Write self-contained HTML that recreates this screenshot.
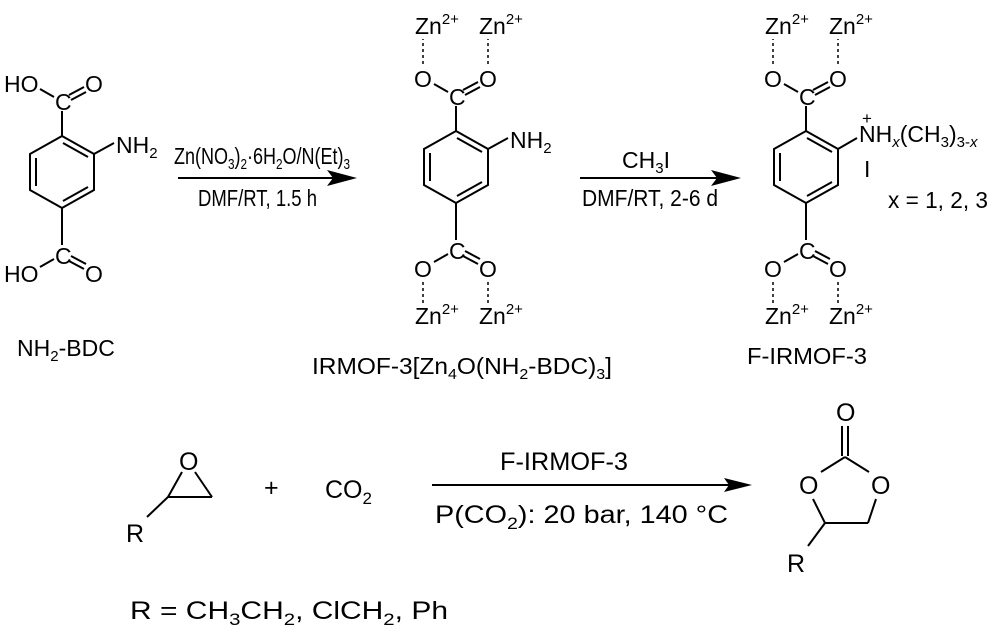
<!DOCTYPE html>
<html><head><meta charset="utf-8"><style>
html,body{margin:0;padding:0;background:#fff;}
svg{display:block;font-family:"Liberation Sans",Arial,sans-serif;}
text{font-size:23px;fill:#000;}
.s{font-size:15px;}
.b{font-size:25px;}
</style></head><body>
<svg width="1000" height="643" viewBox="0 0 1000 643" xmlns="http://www.w3.org/2000/svg">
<defs>
<g id="ring" stroke="#000" stroke-width="2" fill="none">
  <polygon points="806,131 838,149 838,185 806,203 774,185 774,149"/>
  <line x1="780" y1="153" x2="780" y2="181"/>
  <line x1="807" y1="138" x2="832" y2="152"/>
  <line x1="832" y1="182" x2="807" y2="196"/>
  <line x1="806" y1="131" x2="806" y2="106"/>
  <line x1="806" y1="203" x2="806" y2="240"/>
  <line x1="798" y1="92" x2="784" y2="84"/>
  <line x1="813" y1="90" x2="828" y2="82"/>
  <line x1="815" y1="95" x2="830" y2="87"/>
  <line x1="798" y1="254" x2="784" y2="262"/>
  <line x1="813" y1="256" x2="828" y2="264"/>
  <line x1="815" y1="251" x2="830" y2="259"/>
</g>
<g id="zn" stroke="#000" stroke-width="1.5" stroke-dasharray="3,3" fill="none">
  <line x1="773" y1="64" x2="773" y2="39"/>
  <line x1="838" y1="64" x2="838" y2="39"/>
  <line x1="773" y1="282" x2="773" y2="304"/>
  <line x1="838" y1="282" x2="838" y2="304"/>
</g>
<g id="labels">
  <text x="799" y="105">C</text>
  <text x="799" y="259">C</text>
  <text x="764" y="87">O</text>
  <text x="829" y="87">O</text>
  <text x="764" y="277">O</text>
  <text x="829" y="277">O</text>
  <text x="765" y="34">Zn<tspan class="s" dy="-10">2+</tspan></text>
  <text x="829" y="34">Zn<tspan class="s" dy="-10">2+</tspan></text>
  <text x="765" y="324">Zn<tspan class="s" dy="-10">2+</tspan></text>
  <text x="829" y="324">Zn<tspan class="s" dy="-10">2+</tspan></text>
</g>
</defs>

<!-- Mol1 NH2-BDC -->
<g transform="translate(-744,5)">
  <use href="#ring"/>
  <line x1="838" y1="149" x2="858" y2="138" stroke="#000" stroke-width="2"/>
  <text x="799" y="105">C</text>
  <text x="799" y="259">C</text>
  <text x="748" y="87">HO</text>
  <text x="829" y="87">O</text>
  <text x="748" y="277">HO</text>
  <text x="829" y="277">O</text>
  <text x="860" y="148">NH<tspan class="s" dy="5">2</tspan></text>
</g>
<text x="17" y="356">NH<tspan class="s" dy="5">2</tspan><tspan dy="-5">-BDC</tspan></text>

<!-- Arrow 1 -->
<line x1="178" y1="178" x2="345" y2="178" stroke="#000" stroke-width="2"/>
<polygon points="357,178 327,170 333,178 327,186" fill="#000"/>
<text x="174" y="164" textLength="176" lengthAdjust="spacingAndGlyphs">Zn(NO<tspan class="s" dy="5">3</tspan><tspan dy="-5">)</tspan><tspan class="s" dy="5">2</tspan><tspan dy="-5">·6H</tspan><tspan class="s" dy="5">2</tspan><tspan dy="-5">O/N(Et)</tspan><tspan class="s" dy="5">3</tspan></text>
<text x="198" y="206" textLength="119" lengthAdjust="spacingAndGlyphs">DMF/RT, 1.5 h</text>

<!-- Mol2 -->
<g transform="translate(-350,0)">
  <use href="#ring"/><use href="#zn"/><use href="#labels"/>
  <line x1="838" y1="149" x2="858" y2="138" stroke="#000" stroke-width="2"/>
  <text x="860" y="148">NH<tspan class="s" dy="5">2</tspan></text>
</g>
<text x="312" y="374" textLength="300" lengthAdjust="spacingAndGlyphs">IRMOF-3[Zn<tspan class="s" dy="5">4</tspan><tspan dy="-5">O(NH</tspan><tspan class="s" dy="5">2</tspan><tspan dy="-5">-BDC)</tspan><tspan class="s" dy="5">3</tspan><tspan dy="-5">]</tspan></text>

<!-- Arrow 2 -->
<line x1="580" y1="178" x2="728" y2="178" stroke="#000" stroke-width="2"/>
<polygon points="741,178 711,170 717,178 711,186" fill="#000"/>
<text x="622" y="168">CH<tspan class="s" dy="5">3</tspan><tspan dy="-5">I</tspan></text>
<text x="582" y="206" textLength="136" lengthAdjust="spacingAndGlyphs">DMF/RT, 2-6 d</text>

<!-- Mol3 -->
<use href="#ring"/><use href="#zn"/><use href="#labels"/>
<line x1="838" y1="149" x2="857" y2="138" stroke="#000" stroke-width="2"/>
<text x="859" y="142">NH<tspan class="s" dy="5" font-style="italic">x</tspan><tspan dy="-5">(CH</tspan><tspan class="s" dy="5">3</tspan><tspan dy="-5">)</tspan><tspan class="s" dy="5">3-</tspan><tspan class="s" font-style="italic">x</tspan></text>
<text x="862" y="124" style="font-size:17px">+</text>
<text x="864" y="177">I</text>
<text x="888" y="208" textLength="100" lengthAdjust="spacingAndGlyphs">x = 1, 2, 3</text>
<text x="747" y="364" textLength="120" lengthAdjust="spacingAndGlyphs">F-IRMOF-3</text>

<!-- Bottom reaction -->
<g stroke="#000" stroke-width="2" fill="none">
  <line x1="182" y1="472" x2="168" y2="497"/>
  <line x1="195" y1="472" x2="212" y2="497"/>
  <line x1="168" y1="497" x2="212" y2="497"/>
  <line x1="168" y1="497" x2="147" y2="517"/>
  <line x1="432" y1="485" x2="738" y2="485"/>
  <line x1="842" y1="426" x2="842" y2="456"/>
  <line x1="848" y1="426" x2="848" y2="456"/>
  <line x1="845" y1="457" x2="821" y2="472"/>
  <line x1="845" y1="457" x2="869" y2="472"/>
  <line x1="813" y1="499" x2="825" y2="523"/>
  <line x1="825" y1="523" x2="868" y2="523"/>
  <line x1="868" y1="523" x2="876" y2="499"/>
  <line x1="825" y1="523" x2="808" y2="546"/>
</g>
<polygon points="752,485 724,478 729,485 724,492" fill="#000"/>
<text class="b" x="179" y="470">O</text>
<text class="b" x="126" y="542">R</text>
<text class="b" x="264" y="496">+</text>
<text class="b" x="325" y="498">CO<tspan class="s" style="font-size:17px" dy="6">2</tspan></text>
<text x="500" y="470" class="b" textLength="128" lengthAdjust="spacingAndGlyphs">F-IRMOF-3</text>
<text x="435" y="523" class="b" textLength="293" lengthAdjust="spacingAndGlyphs">P(CO<tspan dy="6" style="font-size:17px">2</tspan><tspan dy="-6">): 20 bar, 140 °C</tspan></text>
<text class="b" x="836" y="421">O</text>
<text class="b" x="799" y="494">O</text>
<text class="b" x="871" y="494">O</text>
<text class="b" x="787" y="572">R</text>
<text x="130" y="619" class="b" textLength="318" lengthAdjust="spacingAndGlyphs">R = CH<tspan dy="6" style="font-size:17px">3</tspan><tspan dy="-6">CH</tspan><tspan dy="6" style="font-size:17px">2</tspan><tspan dy="-6">, ClCH</tspan><tspan dy="6" style="font-size:17px">2</tspan><tspan dy="-6">, Ph</tspan></text>
</svg>
</body></html>
